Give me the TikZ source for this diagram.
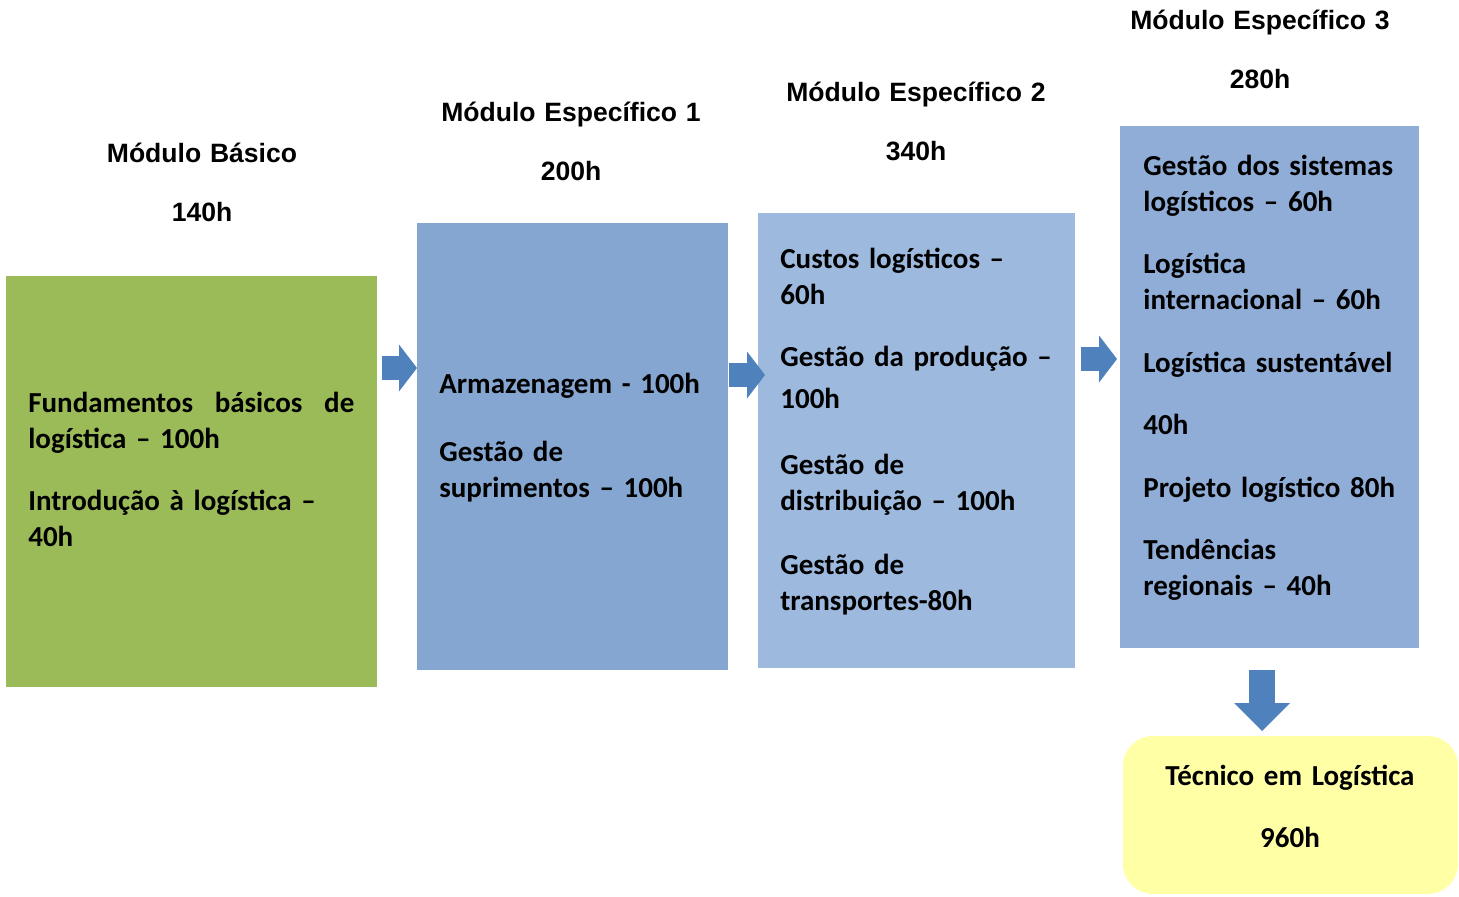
\documentclass[tikz,border=0pt]{standalone}
\usepackage{fontspec}
\setmainfont{Carlito}
\newfontfamily\headfont{Liberation Sans}
\usepackage{color}
\definecolor{mygreen}{RGB}{155,187,89}
\definecolor{myblueone}{RGB}{132,166,208}
\definecolor{mybluetwo}{RGB}{157,185,222}
\definecolor{mybluethree}{RGB}{143,173,215}
\definecolor{myarrowblue}{RGB}{79,129,189}
\definecolor{myyellow}{RGB}{255,255,166}
\usepackage{tikz}
\usetikzlibrary{arrows.meta,positioning,calc}

\begin{document}
\begin{tikzpicture}[
  x=0.02cm, y=-0.02cm,
  mybox/.style={
    rectangle,
    inner sep=0pt,
    outer sep=0pt,
    anchor=north west
    },
  mytext/.style={
    anchor=base west,
    inner sep=0pt,
    align=left,
    text width=#1,
    font=\bfseries\fontsize{16.5}{20.5}\selectfont
    },
  myhead/.style={
    anchor=base,
    inner sep=0pt,
    align=center,
    text width=7cm,
    font=\headfont\bfseries\fontsize{15.1}{34.1}\selectfont
    },
  myarrow/.style={
    draw=myarrowblue,
    line width=0.47cm,
    -{Triangle[length=0.36cm, width=0.94cm, line width=0pt]}
    },
  mydownarrow/.style={
    draw=myarrowblue,
    line width=0.52cm,
    -{Triangle[length=0.56cm, width=1.12cm, line width=0pt]}
    }
]
\useasboundingbox (0,0) rectangle (1459,896);

\node[mybox, fill=mygreen, minimum width=7.42cm, minimum height=8.22cm] (basico) at (6,276) {};
\node[mybox, fill=myblueone, minimum width=6.22cm, minimum height=8.94cm] (esp1) at (417,223) {};
\node[mybox, fill=mybluetwo, minimum width=6.34cm, minimum height=9.10cm] (esp2) at (758,213) {};
\node[mybox, fill=mybluethree, minimum width=5.98cm, minimum height=10.44cm] (esp3) at (1120,126) {};
\node[mybox, fill=myyellow, rounded corners=0.6cm, minimum width=6.70cm, minimum height=3.16cm] (tecnico) at (1123,736) {};

\node[myhead] (hbasico) at (202,162) {Módulo Básico\\140h};
\node[myhead] (hesp1) at (571,121) {Módulo Específico 1\\200h};
\node[myhead] (hesp2) at (916,101) {Módulo Específico 2\\340h};
\node[myhead] (hesp3) at (1260,29) {Módulo Específico 3\\280h};

\node[mytext=6.52cm] (basicotxt) at (28,412)
  {
  Fundamentos\hfill básicos\hfill de\\
  logística – 100h\\[14.8pt]
  Introdução à logística –\\
  40h
  };

\node[mytext=5.6cm] (esp1txt) at (439,393)
  {
  Armazenagem - 100h\\[18.2pt]
  Gestão de\\
  suprimentos – 100h
  };

\node[mytext=5.8cm] (esp2txt) at (780,268)
  {
  Custos logísticos –\\
  60h\\[14.8pt]
  Gestão da produção –\\[3.4pt]
  100h\\[17.6pt]
  Gestão de\\
  distribuição – 100h\\[15.4pt]
  Gestão de\\
  transportes-80h
  };

\node[mytext=5.5cm] (esp3txt) at (1143,175)
  {
  Gestão dos sistemas\\
  logísticos – 60h\\[14.8pt]
  Logística\\
  internacional – 60h\\[15.4pt]
  Logística sustentável\\[14.8pt]
  40h\\[15.4pt]
  Projeto logístico 80h\\[14.8pt]
  Tendências\\
  regionais – 40h
  };

\node[mytext=6cm, anchor=base, align=center] (tecnicotxt) at (1290,785)
  {
  Técnico em Logística\\[14.8pt]
  960h
  };

\coordinate (a1) at (382,368);
\coordinate (a2) at (729,375);
\coordinate (a2e) at (765,375);
\coordinate (a3) at (1081,359);
\coordinate (a3e) at (1117,359);
\coordinate (a4) at (1262,670);
\coordinate (a4e) at (1262,731);

\draw[myarrow] (a1) -- (a1 -| esp1.west);
\draw[myarrow] (a2) -- (a2e);
\draw[myarrow] (a3) -- (a3e);
\draw[mydownarrow] (a4) -- (a4e);
\end{tikzpicture}
\end{document}
